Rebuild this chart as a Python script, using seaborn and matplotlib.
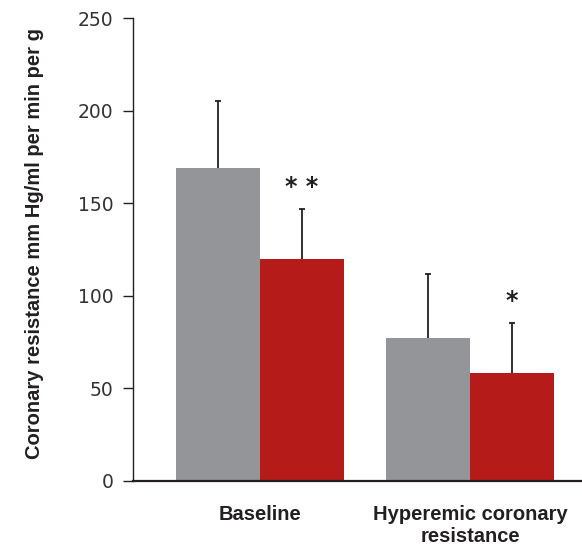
import numpy as np
import pandas as pd
import matplotlib
matplotlib.use("Agg")
import matplotlib.pyplot as plt
import seaborn as sns

# Dados
categorias = ["Baseline", "Hyperemic coronary\nresistance"]
grupos = ["Controle", "Tratado"]
valores_controle = [169, 77]
valores_tratado = [120, 58.5]
erro_controle = [36, 35]
erro_tratado = [27, 27]
marcas = ["* *", "*"]   # significância para o grupo tratado

COR_CINZA = "#939598"
COR_VERMELHO = "#b51c19"
COR_LINHA = "#231f20"

df = pd.DataFrame({
    "categoria": categorias * 2,
    "grupo": [grupos[0]] * 2 + [grupos[1]] * 2,
    "valor": valores_controle + valores_tratado,
})

sns.set_style("ticks")
plt.rcParams["font.family"] = ["Liberation Sans", "DejaVu Sans"]

fig = plt.figure(figsize=(5.82, 5.46), dpi=100)
ax = fig.add_axes([133 / 582, 1 - 481 / 546, 1 - 133 / 582, (481 - 18) / 546])

sns.barplot(
    data=df, x="categoria", y="valor", hue="grupo",
    order=categorias, hue_order=grupos,
    palette=[COR_CINZA, COR_VERMELHO], saturation=1,
    errorbar=None, legend=False, ax=ax, width=0.8, linewidth=0,
)

# Barras de erro só para cima (sem traço na base)
erros = [erro_controle, erro_tratado]
alturas = [valores_controle, valores_tratado]
for i, (cont, err, alt) in enumerate(zip(ax.containers, erros, alturas)):
    xs = np.array([b.get_x() + b.get_width() / 2 for b in cont])
    topo = np.array(alt) + np.array(err)
    ax.vlines(xs, alt, topo, color=COR_LINHA, lw=1.3, zorder=3)
    ax.plot(xs, topo, ls="none", marker="_", ms=5, mew=1.3,
            color=COR_LINHA, zorder=3)
    if i == 1:
        for x, t, m in zip(xs, topo, marcas):
            ax.text(x, t + 5, m, ha="center", va="bottom", fontsize=17,
                    fontweight="bold", color=COR_LINHA, family=["DejaVu Sans"])

ax.set_xlim(-0.605, 1.533)
ax.set_ylim(0, 250)
ax.set_yticks([0, 50, 100, 150, 200, 250])

sns.despine(ax=ax)
ax.spines["left"].set_linewidth(1.0)
ax.spines["left"].set_color(COR_LINHA)
ax.spines["bottom"].set_linewidth(1.6)
ax.spines["bottom"].set_color(COR_LINHA)

ax.tick_params(axis="y", length=7.2, width=1.0, pad=7, colors=COR_LINHA,
               labelcolor="#333333")
for lbl in ax.get_yticklabels():
    lbl.set_fontfamily(["DejaVu Sans"])
    lbl.set_fontsize(13.5)
ax.tick_params(axis="x", length=0, pad=17)
for lbl in ax.get_xticklabels():
    lbl.set_fontweight("bold")
    lbl.set_fontsize(14.5)
    lbl.set_color(COR_LINHA)
    lbl.set_linespacing(1.2)

ax.set_xlabel("")
ax.set_ylabel("Coronary resistance mm Hg/ml per min per g",
              fontsize=14.5, fontweight="bold", color=COR_LINHA)
ax.yaxis.set_label_coords(-0.198, 0.512)

fig.savefig("out.png", dpi=100)
plt.close(fig)
